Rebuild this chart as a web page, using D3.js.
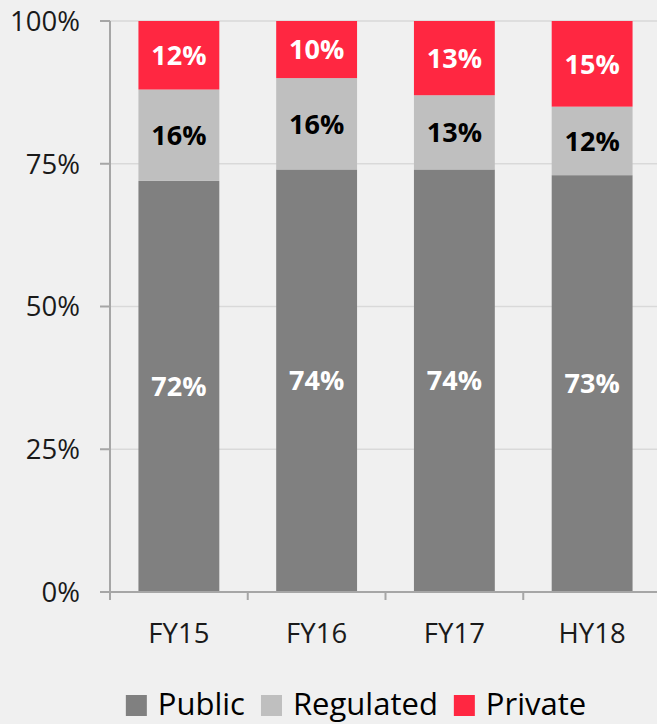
<!DOCTYPE html>
<html lang="en">
<head>
    <meta charset="UTF-8">
    <script src="https://d3js.org/d3.v7.min.js"></script>
    <title>Share by segment</title>
    <style>
        body { margin: 0; background: #f0f0f0; }
        svg { display: block; font-family: "Open Sans", sans-serif; }
    </style>
</head>
<body>
    <script>
        // data
        let categories = ["FY15", "FY16", "FY17", "HY18"];
        let seriesNames = ["Public", "Regulated", "Private"];
        let publicShare = [72, 74, 74, 73];
        let regulatedShare = [16, 16, 13, 12];
        let privateShare = [12, 10, 13, 15];
        let yTicks = [0, 25, 50, 75, 100];

        let colors = { Public: "#808080", Regulated: "#bfbfbf", Private: "#ff2741" };
        let labelColors = { Public: "#ffffff", Regulated: "#000000", Private: "#ffffff" };

        let width = 657, height = 724;
        let plotLeft = 110, plotTop = 21, plotBottom = 592;

        let rows = categories.map((c, i) => ({
            cat: c,
            Public: publicShare[i],
            Regulated: regulatedShare[i],
            Private: privateShare[i]
        }));

        let svg = d3.select("body").append("svg")
            .attr("width", width)
            .attr("height", height);

        svg.append("rect")
            .attr("width", width)
            .attr("height", height)
            .attr("fill", "#f0f0f0");

        let x = d3.scaleBand()
            .domain(categories)
            .range([plotLeft, plotLeft + 551])
            .paddingInner(0.413)
            .paddingOuter(0.2065);

        let y = d3.scaleLinear()
            .domain([0, 100])
            .range([plotBottom, plotTop]);

        // gridlines
        svg.selectAll(".grid")
            .data(yTicks.filter(t => t > 0))
            .enter().append("line")
            .attr("x1", plotLeft)
            .attr("x2", width)
            .attr("y1", d => y(d))
            .attr("y2", d => y(d))
            .attr("stroke", "#d9d9d9")
            .attr("stroke-width", 1.5);

        // stacked bars
        let stack = d3.stack().keys(seriesNames)(rows);

        let layers = svg.selectAll(".layer")
            .data(stack)
            .enter().append("g")
            .attr("fill", d => colors[d.key]);

        layers.selectAll("rect")
            .data(d => d)
            .enter().append("rect")
            .attr("x", d => x(d.data.cat))
            .attr("width", x.bandwidth())
            .attr("y", d => y(d[1]))
            .attr("height", d => y(d[0]) - y(d[1]));

        // value labels
        stack.forEach(layer => {
            svg.selectAll(null)
                .data(layer)
                .enter().append("text")
                .attr("x", d => x(d.data.cat) + x.bandwidth() / 2)
                .attr("y", d => y((d[0] + d[1]) / 2))
                .attr("dy", "0.36em")
                .attr("text-anchor", "middle")
                .attr("font-size", 27)
                .attr("font-weight", "bold")
                .attr("fill", labelColors[layer.key])
                .text(d => (d[1] - d[0]) + "%");
        });

        // y axis
        let axisColor = "#a6a6a6";
        svg.append("line")
            .attr("x1", plotLeft).attr("x2", plotLeft)
            .attr("y1", plotTop).attr("y2", plotBottom + 8)
            .attr("stroke", axisColor)
            .attr("stroke-width", 2);

        svg.selectAll(".ytick")
            .data(yTicks)
            .enter().append("line")
            .attr("x1", plotLeft - 10)
            .attr("x2", plotLeft)
            .attr("y1", d => y(d))
            .attr("y2", d => y(d))
            .attr("stroke", axisColor)
            .attr("stroke-width", 2);

        svg.selectAll(".ylabel")
            .data(yTicks)
            .enter().append("text")
            .attr("x", 80)
            .attr("y", d => y(d))
            .attr("dy", "0.36em")
            .attr("text-anchor", "end")
            .attr("font-size", 27.5)
            .attr("fill", "#1a1a1a")
            .text(d => d + "%");

        // x axis
        svg.append("line")
            .attr("x1", plotLeft - 10).attr("x2", width)
            .attr("y1", plotBottom).attr("y2", plotBottom)
            .attr("stroke", axisColor)
            .attr("stroke-width", 2);

        let half = (x.step() - x.bandwidth()) / 2;
        let bounds = categories.map(c => x(c) - half);
        svg.selectAll(".xtick")
            .data(bounds)
            .enter().append("line")
            .attr("x1", d => d)
            .attr("x2", d => d)
            .attr("y1", plotBottom)
            .attr("y2", plotBottom + 8)
            .attr("stroke", axisColor)
            .attr("stroke-width", 2);

        svg.selectAll(".xlabel")
            .data(categories)
            .enter().append("text")
            .attr("x", d => x(d) + x.bandwidth() / 2)
            .attr("y", 643)
            .attr("text-anchor", "middle")
            .attr("font-size", 27.5)
            .attr("fill", "#1a1a1a")
            .text(d => d);

        // legend, centred under the plot
        let legend = svg.append("g");
        let cursor = 0;
        seriesNames.forEach(name => {
            let item = legend.append("g").attr("transform", "translate(" + cursor + ",0)");
            item.append("rect")
                .attr("x", 0)
                .attr("y", -20)
                .attr("width", 21)
                .attr("height", 21)
                .attr("fill", colors[name]);
            let t = item.append("text")
                .attr("x", 32)
                .attr("y", 0)
                .attr("font-size", 31)
                .attr("fill", "#000")
                .text(name);
            cursor += 32 + t.node().getComputedTextLength() + 16;
        });
        let legendWidth = cursor - 16;
        legend.attr("transform", "translate(" + (356 - legendWidth / 2) + ",715)");
    </script>
</body>
</html>
